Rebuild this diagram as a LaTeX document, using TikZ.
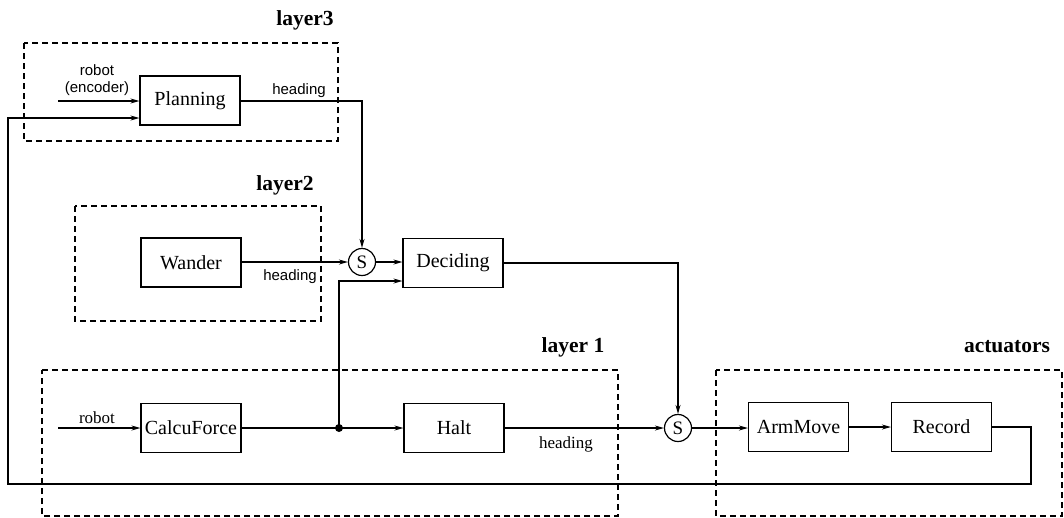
\documentclass[tikz,border=0pt]{standalone}
\usepackage{fontspec}
\setmainfont{Liberation Serif}
\newfontfamily\labsans{Liberation Sans}
\usetikzlibrary{arrows.meta}
\begin{document}
\begin{tikzpicture}[x=1pt,y=-1pt,
  blk/.style={draw,line width=1.2pt,minimum width=100pt,minimum height=49pt,inner sep=0pt,font=\fontsize{20}{22}\selectfont},
  sw/.style={draw,circle,line width=1.2pt,minimum size=27pt,inner sep=0pt,font=\fontsize{19}{21}\selectfont},
  grp/.style={draw,line width=1.2pt,dash pattern=on 6pt off 4pt},
  grplab/.style={font=\fontsize{21.5}{24}\selectfont\bfseries},
  siglab/.style={font=\labsans\fontsize{15}{16.5}\selectfont,inner sep=0pt,align=center},
  sigser/.style={font=\fontsize{17}{19}\selectfont,inner sep=0pt},
  flow/.style={line width=1.2pt,-{Stealth[length=9pt,width=5pt]}},
  wire/.style={line width=1.2pt}]
\useasboundingbox (0,0) rectangle (1064,517);
% group boxes
\draw[grp] (24,43) rectangle (338,141);
\draw[grp] (75,206) rectangle (321,321);
\draw[grp] (42,370) -- (618,370) -- (618,516) -- (42,516) -- cycle;
\draw[grp] (716,370) rectangle (1062,516);
\node[grplab] (l3) at (305,20) {layer3};
\node[grplab] (l2) at (285,185) {layer2};
\node[grplab] (l1) at (573,347) {layer 1};
\node[grplab] (la) at (1007,347) {actuators};
% blocks
\node[blk] (plan) at (190,100.5) {Planning};
\node[blk] (wand) at (191,262.5) {Wander};
\node[blk] (dec) at (453,263) {Deciding};
\node[blk] (calc) at (191,428) {CalcuForce};
\node[blk] (halt) at (454,428) {Halt};
\node[blk] (arm) at (798.5,427) {ArmMove};
\node[blk] (rec) at (941.5,427) {Record};
\node[sw] (s1) at (362,262) {S};
\node[sw] (s2) at (678,428) {S};
% coordinates
\coordinate (in1) at (58,101);
\coordinate (in2) at (58,428);
\coordinate (pc) at (362,101);
\coordinate (dc) at (678,263);
\fill (339,428) circle (4pt) coordinate (jn);
\coordinate (jt) at (339,281);
\coordinate (r1) at (1031,427);
\coordinate (r2) at (1031,484);
\coordinate (r3) at (8,484);
\coordinate (r4) at (8,118);
% connectors
\draw[flow] (in1) -- (in1 -| plan.west);
\draw[flow] (r1 -| rec.east) -- (r1) -- (r2) -- (r3) -- (r4) -- (r4 -| plan.west);
\draw[flow] (plan.east |- pc) -- (pc) -- (s1.north);
\draw[flow] (wand.east |- s1) -- (s1.west);
\draw[flow] (s1.east) -- (s1 -| dec.west);
\draw[flow] (jn) -- (jt) -- (jt -| dec.west);
\draw[flow] (dec.east) -- (dc) -- (s2.north);
\draw[flow] (in2) -- (calc.west);
\draw[wire] (calc.east) -- (jn);
\draw[flow] (jn) -- (halt.west);
\draw[flow] (halt.east) -- (s2.west);
\draw[flow] (s2.east) -- (s2.east -| arm.west);
\draw[flow] (arm.east) -- (rec.west);
% signal labels
\node[siglab] (t1) at (97,80) {robot\\(encoder)};
\node[siglab] (t2) at (299,91) {heading};
\node[siglab] (t3) at (290,277) {heading};
\node[sigser] (t4) at (97,418) {robot};
\node[sigser] (t5) at (566,444) {heading};
\end{tikzpicture}
\end{document}
